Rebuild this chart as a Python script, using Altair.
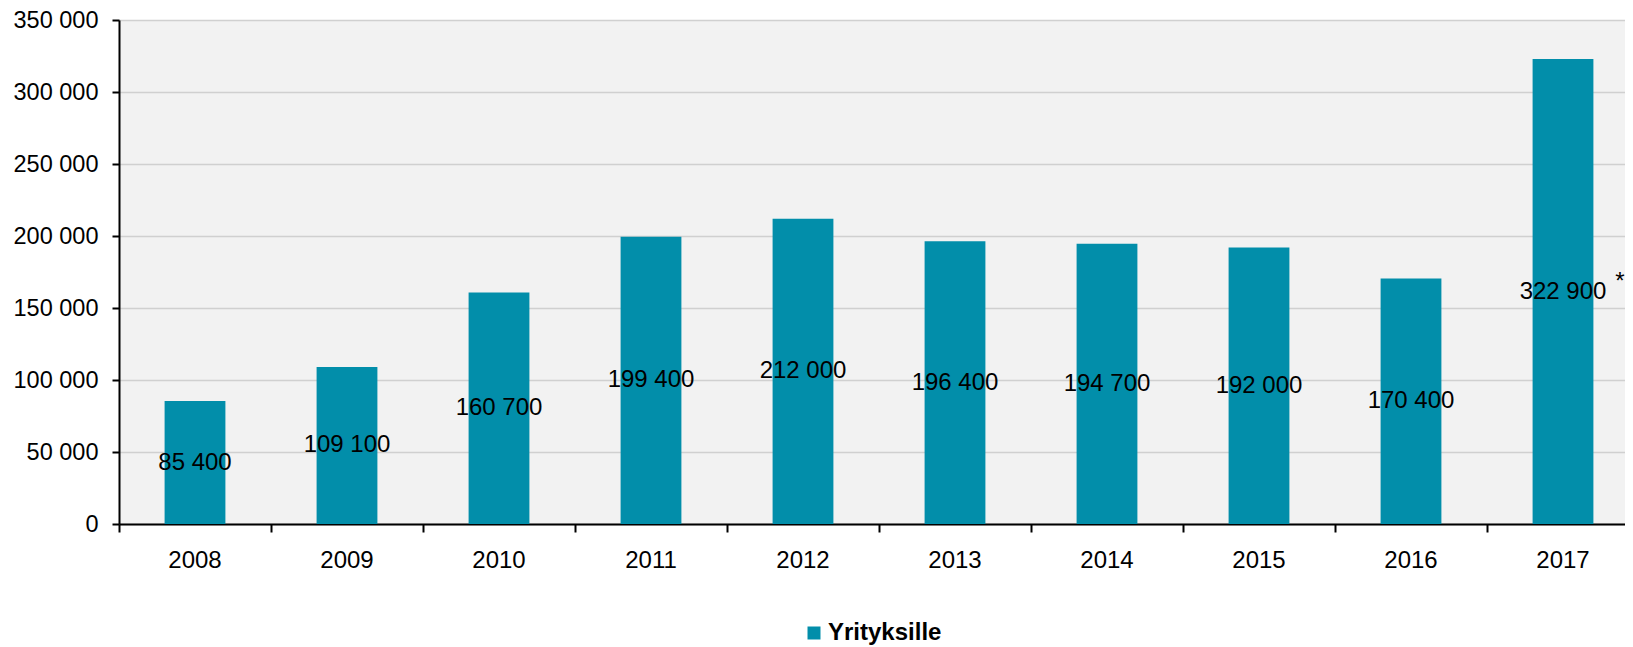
import altair as alt
import pandas as pd

years = ["2008", "2009", "2010", "2011", "2012", "2013", "2014", "2015", "2016", "2017"]
values = [85400, 109100, 160700, 199400, 212000, 196400, 194700, 192000, 170400, 322900]
series = "Yrityksille"
note_year = "2017"
note_text = "*"

FONT = "Liberation Sans"
BAR = "#028EAA"

df = pd.DataFrame({"year": years, "value": values})
df["series"] = series
df["mid"] = df["value"] / 2
df["label"] = [f"{v:,}".replace(",", " ") for v in values]

note_df = df[df["year"] == note_year].copy()
note_df["note"] = note_text

x_axis = alt.Axis(
    title=None,
    labelAngle=0,
    labelFont=FONT,
    labelFontSize=24,
    labelColor="black",
    labelPadding=16,
    domainColor="black",
    domainWidth=2,
    tickColor="black",
    tickWidth=2,
    tickSize=8,
    bandPosition=0,
    grid=False,
)
x_scale = alt.Scale(paddingInner=0, paddingOuter=0, round=False, range=[0, 1520])


def x_enc():
    return alt.X("year:N", sort=years, scale=x_scale, axis=x_axis)


y_scale = alt.Scale(domain=[0, 350000], nice=False)

bars = alt.Chart(df).mark_bar(stroke=None, width=alt.RelativeBandSize(0.4)).encode(
    x=x_enc(),
    y=alt.Y(
        "value:Q",
        scale=y_scale,
        axis=alt.Axis(
            title=None,
            values=[0, 50000, 100000, 150000, 200000, 250000, 300000, 350000],
            labelExpr="replace(format(datum.value, ','), ',', ' ')",
            labelFont=FONT,
            labelFontSize=23.5,
            labelColor="black",
            labelPadding=14,
            domainColor="black",
            domainWidth=2,
            tickColor="black",
            tickWidth=2,
            tickSize=7,
            gridColor="#D0D0D0",
            gridWidth=1.5,
        ),
    ),
    color=alt.Color(
        "series:N",
        scale=alt.Scale(range=[BAR]),
        legend=alt.Legend(
            title=None,
            orient="none",
            legendX=683,
            legendY=601,
            symbolType="square",
            symbolSize=169,
            symbolStrokeWidth=0,
            labelFont=FONT,
            labelFontSize=24,
            labelFontWeight="bold",
            labelColor="black",
            labelOffset=2,
        ),
    ),
)

labels = alt.Chart(df).mark_text(
    font=FONT, fontSize=24, color="black", baseline="middle", align="center"
).encode(
    x=x_enc(),
    y=alt.Y("mid:Q", scale=y_scale),
    text="label:N",
)

note = alt.Chart(note_df).mark_text(
    font=FONT, fontSize=24, color="black", baseline="middle", align="center", dx=57, dy=-10
).encode(
    x=x_enc(),
    y=alt.Y("mid:Q", scale=y_scale),
    text="note:N",
)

chart = (
    alt.layer(bars, labels, note)
    .properties(
        width=1506,
        height=504,
        autosize=alt.AutoSizeParams(type="none"),
        padding={"left": 111, "top": 12, "right": 0, "bottom": 123},
    )
    .configure_view(fill="#F2F2F2", stroke=None)
)

chart.save("out.html", embed_options={"renderer": "svg", "actions": False})
